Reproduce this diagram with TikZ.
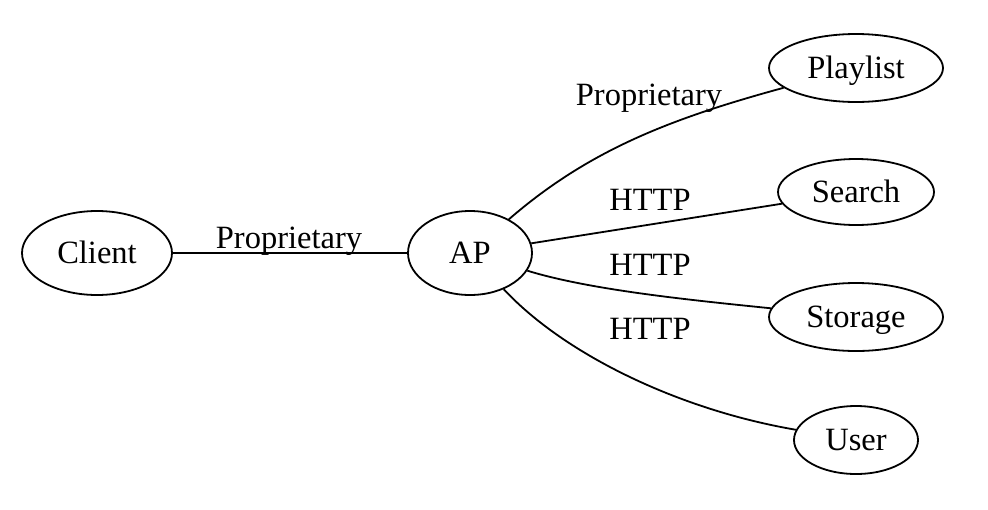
\documentclass[tikz,border=0pt]{standalone}
\usepackage{fontspec}
\setmainfont{Liberation Serif}
\usetikzlibrary{shapes.geometric}
\begin{document}
\begin{tikzpicture}[x=1pt,y=-1pt,
  every node/.style={font=\fontsize{32.5}{36}\selectfont},
  vert/.style={ellipse,draw,line width=1.8pt,inner sep=0pt,text height=21pt,text depth=0pt},
  lbl/.style={anchor=base,inner sep=0pt},
  edge/.style={line width=1.8pt}]
\useasboundingbox (0,0) rectangle (988,509);
\node[vert,minimum width=150,minimum height=84] (client) at (97,253) {Client};
\node[vert,minimum width=124,minimum height=84] (ap) at (470,253) {AP};
\node[vert,minimum width=174,minimum height=68] (pl) at (856,68) {Playlist};
\node[vert,minimum width=156,minimum height=66] (se) at (856,192) {Search};
\node[vert,minimum width=174,minimum height=68] (st) at (856,317) {Storage};
\node[vert,minimum width=124,minimum height=68] (us) at (856,440) {User};
\draw[edge] (client) -- (ap);
\draw[edge] (ap) .. controls (590,149) and (673,118) .. (pl);
\draw[edge] (ap) -- (se);
\draw[edge] (ap) .. controls (590,290) and (690,300) .. (st);
\draw[edge] (ap) .. controls (565,355) and (680,410) .. (us);
\node[lbl] (l1) at (289,248) {Proprietary};
\node[lbl] (l2) at (649,105) {Proprietary};
\node[lbl] (l3) at (650,210) {HTTP};
\node[lbl] (l4) at (650,275) {HTTP};
\node[lbl] (l5) at (650,339) {HTTP};
\end{tikzpicture}
\end{document}
